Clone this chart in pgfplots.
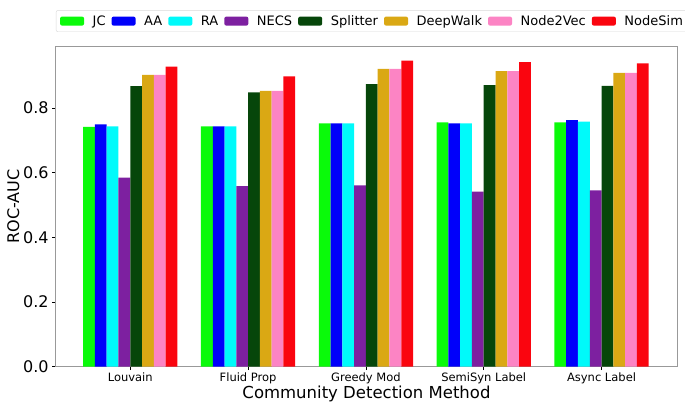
\documentclass[border=0pt]{standalone}
\usepackage{fontspec}
\setmainfont{DejaVu Sans}
\usepackage{pgfplots}
\usepackage{pgfplotstable}
\pgfplotsset{compat=1.18}
\definecolor{cJC}{RGB}{10,250,10}
\definecolor{cAA}{RGB}{0,0,250}
\definecolor{cRA}{RGB}{0,250,250}
\definecolor{cNECS}{RGB}{125,32,160}
\definecolor{cSpl}{RGB}{6,70,10}
\definecolor{cDW}{RGB}{218,168,20}
\definecolor{cN2V}{RGB}{252,132,196}
\definecolor{cNS}{RGB}{250,5,15}
\pgfplotstableread{
x JC AA RA NECS Splitter DeepWalk Node2Vec NodeSim
0 0.741 0.749 0.743 0.584 0.867 0.902 0.902 0.927
1 0.743 0.743 0.743 0.558 0.848 0.852 0.852 0.897
2 0.752 0.752 0.752 0.560 0.873 0.920 0.920 0.946
3 0.755 0.752 0.752 0.541 0.870 0.913 0.913 0.941
4 0.755 0.762 0.757 0.545 0.868 0.908 0.908 0.937
}\datatable
\begin{document}
\begin{tikzpicture}
\useasboundingbox (-55.7pt,-39.3pt) rectangle (629.3pt,366.7pt);
\begin{axis}[
  at={(0pt,0pt)}, anchor=south west,
  scale only axis, width=621.6pt, height=320.7pt,
  ybar=0pt, bar width=0.1,
  xmin=-0.633, xmax=4.643, ymin=0, ymax=0.991,
  xtick={0,1,2,3,4},
  xticklabels={Louvain, Fluid Prop, Greedy Mod, SemiSyn Label, Async Label},
  ytick={0,0.2,0.4,0.6,0.8},
  /pgf/number format/assume math mode=true,
  yticklabel style={/pgf/number format/fixed, /pgf/number format/precision=1, /pgf/number format/fixed zerofill, font=\fontsize{16}{18}\selectfont},
  xticklabel style={font=\fontsize{11.5}{13}\selectfont, yshift=1pt},
  tick pos=left, tick align=outside, major tick length=3.5pt,
  tick style={black, line width=0.6pt},
  axis line style={draw=black!40, line width=0.8pt},
  xlabel={Community Detection Method},
  ylabel={ROC-AUC},
  xlabel style={font=\fontsize{16.5}{18}\selectfont, yshift=5pt},
  ylabel style={font=\fontsize{16}{18}\selectfont, yshift=-3pt},
  legend columns=8,
  legend style={at={(0.5,1)}, anchor=south, yshift=14pt, xshift=6pt,
    font=\fontsize{13}{15}\selectfont, draw=black!15, rounded corners=2pt,
    inner xsep=4pt, inner ysep=3pt,
    /tikz/every even column/.append style={column sep=4pt},
    /tikz/every odd column/.append style={column sep=6.6pt}},
  legend image code/.code={\fill[#1] (0pt,-4.5pt) rectangle (24pt,4.5pt);},
  every axis plot/.append style={draw=none},
]
\addplot[fill=cJC] table[x=x,y=JC]{\datatable};
\addplot[fill=cAA] table[x=x,y=AA]{\datatable};
\addplot[fill=cRA] table[x=x,y=RA]{\datatable};
\addplot[fill=cNECS] table[x=x,y=NECS]{\datatable};
\addplot[fill=cSpl] table[x=x,y=Splitter]{\datatable};
\addplot[fill=cDW] table[x=x,y=DeepWalk]{\datatable};
\addplot[fill=cN2V] table[x=x,y=Node2Vec]{\datatable};
\addplot[fill=cNS] table[x=x,y=NodeSim]{\datatable};
\legend{JC, AA, RA, NECS, Splitter, DeepWalk, Node2Vec, NodeSim}
\end{axis}
\end{tikzpicture}
\end{document}
